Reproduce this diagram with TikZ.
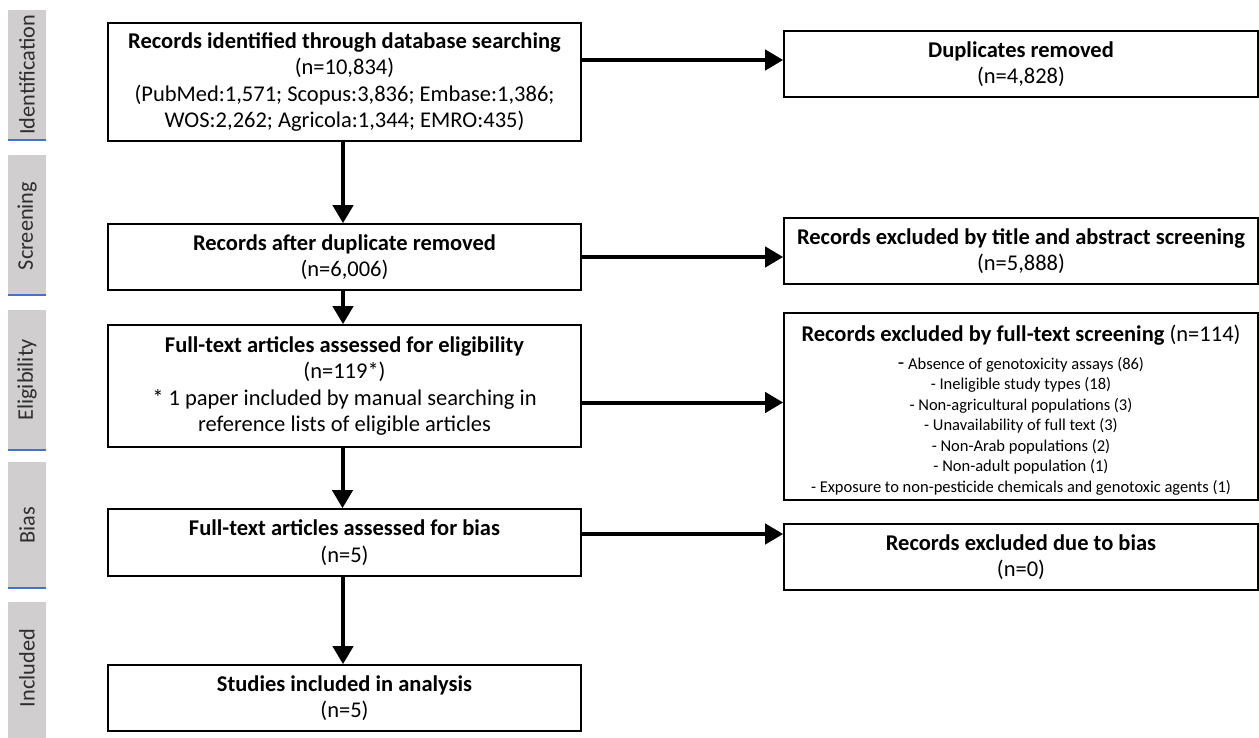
\documentclass[tikz,border=0pt]{standalone}
\usepackage{fontspec}
\setmainfont{Carlito}
\usetikzlibrary{arrows.meta,calc}
\definecolor{sidegray}{HTML}{D0CECE}
\definecolor{sideblue}{HTML}{4472C4}
\newcommand{\smallft}{\fontsize{16.5}{20.5}\selectfont}
\newcommand{\bigft}{\fontsize{22.5}{26.5}\selectfont}
\tikzset{
  box/.style={draw=black, line width=1.6pt, align=center, inner sep=0pt,
    font=\bigft},
  arr/.style={line width=4pt, -{Triangle[length=18pt,width=20pt]}},
  side/.style={fill=sidegray, draw=none},
  sidelabel/.style={rotate=90, font=\fontsize{22.3}{24}\selectfont, text=black!82},
  sideline/.style={draw=sideblue, line width=2.5pt},
}
\begin{document}
\begin{tikzpicture}[x=1pt,y=-1pt]
\useasboundingbox (0,0) rectangle (1259,738);
% sidebar
\fill[side] (8,10) rectangle (46,141);
\draw[sideline] (8,140) -- (46,140);
\node[sidelabel] (sid) at (27,75) {Identification};
\fill[side] (8,155) rectangle (46,296);
\draw[sideline] (8,295) -- (46,295);
\node[sidelabel] (sscr) at (27,226) {Screening};
\fill[side] (8,310) rectangle (46,451);
\draw[sideline] (8,450) -- (46,450);
\node[sidelabel] (selig) at (27,380) {Eligibility};
\fill[side] (8,462) rectangle (46,589);
\draw[sideline] (8,588) -- (46,588);
\node[sidelabel] (sbias) at (27,525) {Bias};
\fill[side] (8,602) rectangle (46,738);
\node[sidelabel] (sinc) at (27,668) {Included};
% main boxes
\node[box, minimum width=473pt, minimum height=118pt] (b1) at (344.5,82)
  {\textbf{Records identified through database searching}\\(n=10,834)\\(PubMed:1,571; Scopus:3,836; Embase:1,386;\\WOS:2,262; Agricola:1,344; EMRO:435)};
\node[box, minimum width=473pt, minimum height=66pt] (b2) at (344.5,257)
  {\textbf{Records after duplicate removed}\\(n=6,006)};
\node[box, minimum width=473pt, minimum height=122pt] (b3) at (344.5,386)
  {\textbf{Full-text articles assessed for eligibility}\\(n=119*)\\* 1 paper included by manual searching in\\reference lists of eligible articles};
\node[box, minimum width=473pt, minimum height=67pt] (b4) at (344.5,542.5)
  {\textbf{Full-text articles assessed for bias}\\(n=5)};
\node[box, minimum width=473pt, minimum height=66pt] (b5) at (344.5,698)
  {\textbf{Studies included in analysis}\\(n=5)};
% right boxes
\node[box, minimum width=474pt, minimum height=66pt] (dup) at (1021,64)
  {\textbf{Duplicates removed}\\(n=4,828)};
\node[box, minimum width=474pt, minimum height=66pt] (tae) at (1021,251)
  {\textbf{Records excluded by title and abstract screening}\\(n=5,888)};
\node[box, font=\smallft, minimum width=474pt, minimum height=187pt] (ft) at (1021,406.5)
  {\rule{0pt}{24pt}{\bigft\textbf{Records excluded by full-text screening} (n=114)}\\[7pt]
   {\fontsize{21}{20}\selectfont-} Absence of genotoxicity assays (86)\\
   - Ineligible study types (18)\\
   - Non-agricultural populations (3)\\
   - Unavailability of full text (3)\\
   - Non-Arab populations (2)\\
   - Non-adult population (1)\\
   - Exposure to non-pesticide chemicals and genotoxic agents (1)};
\node[box, minimum width=474pt, minimum height=66pt] (bias) at (1021,557)
  {\textbf{Records excluded due to bias}\\(n=0)};
% arrows
\draw[arr] ([xshift=-1.5pt]b1.south) -- ([xshift=-1.5pt]b2.north);
\draw[arr] ([xshift=-1.5pt]b2.south) -- ([xshift=-1.5pt]b3.north);
\draw[arr] ([xshift=-2pt]b3.south) -- ([xshift=-2pt]b4.north);
\draw[arr] ([xshift=-1.5pt]b4.south) -- ([xshift=-1.5pt]b5.north);
\draw[arr] ([yshift=4pt]b1.east |- dup.west) -- ([yshift=4pt]dup.west);
\draw[arr] (b2.east) -- (b2.east -| tae.west);
\draw[arr] ([yshift=4pt]b3.east |- ft.west) -- ([yshift=4pt]ft.west);
\draw[arr] ([yshift=8.5pt]b4.east) -- ([yshift=8.5pt]b4.east -| bias.west);
\end{tikzpicture}
\end{document}
